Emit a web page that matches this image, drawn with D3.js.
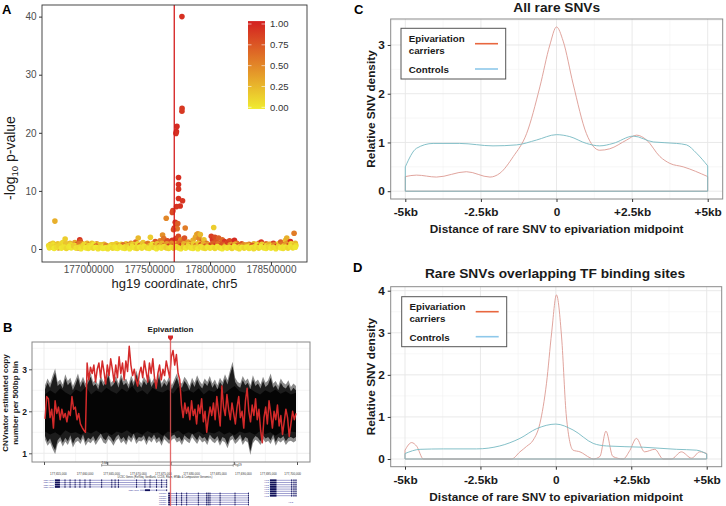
<!DOCTYPE html>
<html><head><meta charset="utf-8">
<script src="https://cdn.jsdelivr.net/npm/d3@7/dist/d3.min.js"></script>
<style>body{margin:0;background:#fff}svg{display:block;font-family:"Liberation Sans",Arial,sans-serif}</style>
</head><body><svg id="c" width="726" height="506"></svg>
<script>
// ---------------- DATA ----------------
// Panel A: [position (Mb, chr5 hg19), -log10 p, r2]
const snpBase = [
[176.68,0.2,0.05],[176.70,0.45,0.1],[176.72,0.1,0.02],[176.74,0.3,0.08],[176.76,0.55,0.12],[176.78,0.15,0.03],[176.80,0.35,0.05],[176.82,0.1,0.1],[176.84,0.4,0.04],[176.86,0.2,0.02],[176.88,0.5,0.15],[176.90,0.15,0.05],[176.92,0.3,0.08],[176.94,0.05,0.03],[176.96,0.4,0.1],[176.98,0.2,0.02],[177.00,0.1,0.06],[177.02,0.35,0.04],[177.04,0.15,0.1],[177.06,0.3,0.02],[177.08,0.05,0.05],[177.10,0.25,0.08],[177.12,0.1,0.03],[177.14,0.2,0.02],[177.16,0.05,0.06],[177.18,0.3,0.04],[177.20,0.15,0.1],[177.22,0.35,0.05],[177.24,0.1,0.02],[177.26,0.4,0.08],[177.28,0.2,0.03],[177.30,0.1,0.05],[177.32,0.3,0.1],[177.34,0.05,0.02],[177.36,0.4,0.06],[177.38,0.2,0.04],[177.40,0.1,0.12],[177.42,0.35,0.03],[177.44,0.15,0.08],[177.46,0.45,0.05],[177.48,0.2,0.1],[177.50,0.1,0.04],[177.52,0.4,0.06],[177.54,0.25,0.12],[177.56,0.05,0.03],[177.58,0.35,0.1],[177.60,0.15,0.05],[177.62,0.4,0.08],[177.64,0.2,0.15],[177.66,0.1,0.1],[177.68,0.3,0.05],[177.70,0.15,0.12],[177.72,0.4,0.08],[177.74,0.2,0.1],[177.76,0.05,0.05],[177.78,0.35,0.15],[177.80,0.15,0.03],[177.82,0.45,0.1],[177.84,0.2,0.06],[177.86,0.1,0.04],[177.88,0.3,0.12],[177.90,0.05,0.02],[177.92,0.4,0.08],[177.94,0.2,0.05],[177.96,0.1,0.1],[177.98,0.35,0.03],[178.00,0.15,0.06],[178.02,0.3,0.04],[178.04,0.1,0.1],[178.06,0.4,0.05],[178.08,0.2,0.08],[178.10,0.05,0.02],[178.12,0.35,0.1],[178.14,0.15,0.04],[178.16,0.3,0.06],[178.18,0.1,0.12],[178.20,0.4,0.03],[178.22,0.2,0.05],[178.24,0.05,0.08],[178.26,0.3,0.02],[178.28,0.15,0.1],[178.30,0.35,0.04],[178.32,0.1,0.06],[178.34,0.25,0.03],[178.36,0.05,0.08],[178.38,0.3,0.05],[178.40,0.15,0.1],[178.42,0.4,0.02],[178.44,0.2,0.06],[178.46,0.1,0.04],[178.48,0.35,0.1],[178.50,0.15,0.03],[178.52,0.3,0.08],[178.54,0.05,0.05],[178.56,0.4,0.12],[178.58,0.2,0.02],[178.60,0.1,0.06],[178.62,0.35,0.04],[178.64,0.15,0.1],[178.66,0.4,0.05],[178.68,0.2,0.08],[178.70,0.3,0.03]
];
const snpLow2 = [
[176.675,0.6,0.1],[176.695,0.3,0.2],[176.715,0.7,0.05],[176.735,0.5,0.15],[176.755,0.2,0.4],[176.775,0.8,0.1],[176.795,0.5,0.05],[176.815,0.9,0.2],[176.835,0.3,0.6],[176.855,0.7,0.1],[176.875,0.4,0.3],[176.895,0.6,0.05],[176.915,0.2,0.7],[176.925,0.9,0.55],[176.945,0.5,0.2],[176.965,0.8,0.1],[176.985,0.4,0.65],
[177.005,0.6,0.1],[177.025,0.3,0.4],[177.045,0.8,0.05],[177.065,0.5,0.7],[177.085,0.3,0.1],[177.105,0.7,0.2],[177.125,0.4,0.05],[177.145,0.6,0.5],[177.165,0.3,0.1],[177.185,0.5,0.05],[177.205,0.7,0.15],[177.225,0.2,0.1],[177.245,0.6,0.3],[177.265,0.5,0.05],[177.285,0.7,0.6],[177.305,0.4,0.1],[177.325,0.6,0.2],[177.345,0.3,0.9],
[177.365,0.8,0.15],[177.385,0.5,0.5],[177.405,0.9,0.1],[177.425,0.6,0.7],[177.445,0.8,0.2],[177.465,0.5,0.1],[177.485,0.9,0.6],[177.505,0.6,0.3],[177.525,0.8,0.05],[177.545,0.5,0.85],[177.565,0.9,0.2],[177.585,0.6,0.6],[177.605,1.0,0.3],[177.625,0.6,0.7],[177.645,0.9,0.4],[177.665,0.5,0.85],[177.685,1.0,0.5],
[177.705,0.6,0.9],[177.715,0.9,0.3],[177.725,0.5,0.8],[177.745,1.0,0.6],[177.765,0.6,0.85],[177.785,0.9,0.3],[177.805,0.5,0.7],[177.825,0.8,0.2],[177.845,0.6,0.5],[177.865,0.9,0.15],[177.885,0.6,0.6],[177.905,1.0,0.2],[177.925,0.7,0.85],[177.945,0.9,0.3],[177.965,0.5,0.7],[177.985,0.8,0.4],
[178.005,0.6,0.9],[178.025,1.0,0.7],[178.045,0.6,0.85],[178.065,0.9,0.6],[178.085,0.5,0.9],[178.105,0.8,0.75],[178.125,0.6,0.5],[178.145,1.0,0.85],[178.165,0.7,0.4],[178.185,0.5,0.9],[178.205,0.8,0.3],[178.225,0.6,0.7],[178.245,0.4,0.15],[178.265,0.6,0.5],[178.285,0.3,0.1],
[178.305,0.7,0.4],[178.325,0.5,0.1],[178.345,0.6,0.75],[178.365,0.4,0.2],[178.385,0.7,0.05],[178.405,0.5,0.6],[178.425,0.8,0.15],[178.445,0.4,0.85],[178.465,0.6,0.1],[178.485,0.8,0.3],[178.505,0.5,0.05],[178.525,0.7,0.5],[178.545,0.4,0.9],[178.565,0.6,0.2],[178.585,0.8,0.6],[178.605,0.5,0.1],[178.625,0.9,0.4],[178.645,0.6,0.75],[178.665,0.9,0.1],[178.685,0.5,0.3],[178.705,0.6,0.1]
];
const snpMixed = [
[176.69,0.8,0.3],[176.71,1.0,0.15],[176.73,0.7,0.5],[176.75,0.9,0.2],[176.77,0.6,0.6],[176.79,1.1,0.1],[176.81,1.7,0.15],[176.83,0.8,0.45],[176.85,1.0,0.25],[176.87,0.6,0.7],[176.89,1.1,0.35],[176.91,0.8,0.85],[176.93,1.6,0.9],[176.935,1.3,0.75],[176.95,0.9,0.5],[176.97,0.7,0.8],[176.99,1.0,0.3],
[177.01,0.7,0.6],[177.03,1.0,0.2],[177.05,0.6,0.85],[177.07,0.9,0.4],[177.09,0.7,0.15],[177.11,0.5,0.9],[177.13,0.8,0.3],[177.15,0.6,0.1],[177.17,0.4,0.5],[177.19,0.7,0.2],[177.21,0.5,0.05],[177.23,0.9,0.15],[177.25,0.6,0.6],[177.27,0.8,0.1],[177.29,0.5,0.3],[177.31,0.9,0.2],[177.33,0.7,0.8],
[177.35,1.0,0.4],[177.37,0.6,0.9],[177.39,1.2,0.7],[177.41,1.9,0.25],[177.43,0.8,0.5],[177.45,1.1,0.2],[177.47,0.7,0.85],[177.49,1.0,0.3],[177.51,2.0,0.15],[177.53,0.9,0.6],[177.55,1.3,0.75],[177.57,0.8,0.4],[177.59,1.4,0.55],[177.61,2.4,0.45],[177.62,1.8,0.6],[177.63,1.0,0.9],[177.65,1.4,0.8],[177.67,0.9,0.7],
[177.69,1.5,0.9],[177.70,0.8,0.6],[177.71,1.2,0.95],[177.72,1.8,0.85],[177.73,0.9,0.7],[177.74,2.2,0.8],[177.75,1.0,0.9],[177.76,1.6,0.5],[177.77,0.7,0.95],[177.78,1.3,0.6],[177.79,1.9,0.75],[177.80,0.8,0.85],[177.82,1.2,0.4],[177.84,0.9,0.8],
[177.86,1.5,0.3],[177.88,2.0,0.35],[177.89,2.5,0.3],[177.90,2.6,0.4],[177.91,1.8,0.5],[177.92,2.5,0.25],[177.93,1.2,0.7],[177.95,1.6,0.2],[177.97,1.0,0.6],[177.99,0.7,0.9],[178.01,2.2,0.85],[178.02,1.6,0.9],[178.03,3.7,0.15],[178.04,2.0,0.8],[178.05,1.3,0.75],[178.07,1.9,0.7],[178.08,1.0,0.85],[178.10,1.6,0.65],[178.12,1.3,0.9],[178.14,0.9,0.6],[178.16,1.4,0.8],[178.18,0.8,0.5],[178.20,1.5,0.95],[178.22,1.0,0.6],[178.24,0.6,0.3],[178.26,0.9,0.75],[178.28,0.7,0.4],
[178.30,0.5,0.2],[178.32,0.8,0.6],[178.34,0.6,0.1],[178.36,0.9,0.3],[178.38,0.5,0.8],[178.40,1.0,0.5],[178.42,1.2,0.9],[178.44,0.7,0.2],[178.46,0.9,0.6],[178.48,0.6,0.15],[178.50,0.8,0.4],[178.52,1.0,0.85],[178.54,0.6,0.3],[178.56,0.9,0.1],[178.58,1.2,0.7],[178.60,0.8,0.55],[178.62,1.5,0.2],[178.63,1.9,0.3],[178.64,1.0,0.8],[178.66,1.3,0.95],[178.67,0.8,0.5],[178.69,2.7,0.55],[178.70,1.0,0.25]
];
const snpPeak = [
[176.726,4.8,0.3],[177.769,40,0.92],[177.770,24.2,0.88],[177.769,23.7,0.88],[177.728,21.1,0.95],[177.724,20.2,0.95],[177.720,19.9,0.92],
[177.741,12.3,0.93],[177.741,11.1,0.93],[177.741,10.3,0.9],[177.741,8.7,0.92],[177.774,8.3,0.9],[177.755,7.4,0.92],[177.725,7.3,0.9],
[177.695,6.6,0.85],[177.690,6.3,0.8],[177.640,5.3,0.5],[177.714,4.6,0.9],[177.720,4.2,0.75],[177.706,3.6,0.85],[177.730,3.5,0.6],
[177.796,3.6,0.55],[177.735,4.4,0.7],[177.700,3.3,0.8]
];
const epiPosA = 177.706;
const aXTicks = [177.0,177.5,178.0,178.5];
const aYTicks = [0,10,20,30,40];
const r2Ticks = [0,0.25,0.5,0.75,1];

// Panel B: CNVnator copy number per 500bp bin
const redLine = [1.82,2.35,2.3,1.85,2.05,1.6,2.25,1.95,2.1,1.8,2.05,1.85,1.95,1.75,2.0,1.9,2.35,2.05,2.1,1.8,1.95,1.7,1.62,1.55,1.5,
3.15,2.75,3.05,2.9,3.1,2.7,3.0,3.15,2.8,3.2,2.95,2.65,3.1,2.85,3.25,3.0,2.7,3.1,2.8,3.3,2.9,3.15,2.75,3.2,2.95,3.55,3.1,2.85,3.0,2.75,2.6,2.9,3.05,2.8,3.2,2.95,2.7,3.15,2.9,3.25,2.8,2.55,2.9,3.1,2.75,3.0,2.85,3.2,3.0,2.8,3.3,3.45,3.1,3.35,2.9,2.75,
2.15,1.85,2.2,1.95,2.1,1.8,2.25,1.9,2.05,1.7,2.15,1.95,2.3,1.75,2.0,1.5,1.85,2.1,1.9,2.2,1.8,2.35,2.0,1.65,2.6,2.1,1.9,2.4,2.05,1.8,2.2,1.95,1.7,2.1,2.35,1.85,2.0,1.6,2.25,2.55,2.0,1.75,2.15,1.9,2.3,1.8,2.05,1.55,1.25,1.85,2.1,1.7,2.25,1.95,1.6,2.0,1.8,2.15,1.65,1.9,1.45,1.75,2.05,1.85,1.4,1.7,2.0,1.8,1.95];
const bandOuterHi = [2.62,2.78,2.66,2.85,3.02,2.7,2.76,2.64,2.88,2.72,2.8,2.6,2.74,2.9,2.68,2.82,2.66,2.78,2.92,2.7,2.75,2.62,2.86,2.7,2.8,2.95,2.68,2.74,2.84,2.66,2.9,2.72,2.78,2.64,2.86,2.7,2.98,2.76,2.66,2.82,2.72,2.88,2.68,2.8,2.74,2.92,2.66,2.78,2.7,2.84,2.62,2.76,2.9,2.7,2.66,2.82,2.74,2.6,2.8,2.68,2.86,2.72,2.64,2.78,2.7,2.84,2.66,2.76,2.62,2.8,2.7,2.88,2.74,2.98,3.18,2.8,2.7,2.66,2.84,2.72,2.78,2.62,2.86,2.7,2.76,2.64,2.82,2.68,2.74,2.9,2.66,2.72,2.6,2.78,2.68,2.64,2.74,2.58,2.66,2.6];
const bandOuterLo = [1.32,1.18,1.26,1.1,0.98,1.22,1.3,1.16,1.28,1.2,1.34,1.14,1.26,1.3,1.22,1.36,1.18,1.28,1.24,1.32,1.2,1.3,1.38,1.26,1.22,1.34,1.28,1.18,1.3,1.36,1.24,1.3,1.2,1.34,1.26,1.38,1.22,1.3,1.28,1.34,1.2,1.32,1.26,1.36,1.24,1.3,1.18,1.34,1.28,1.22,1.32,1.36,1.26,1.3,1.2,1.34,1.28,1.24,1.38,1.3,1.22,1.34,1.26,1.3,1.2,1.36,1.28,1.24,1.32,1.18,1.3,1.26,1.12,1.3,1.34,1.22,1.28,1.36,1.2,1.3,1.26,0.96,1.24,1.32,1.28,1.2,1.34,1.26,1.3,1.22,1.36,1.18,1.3,1.26,1.32,1.2,1.28,1.3,1.26,1.3];
const bandInnerHi = [2.4,2.5,2.42,2.55,2.45,2.38,2.52,2.46,2.58,2.4,2.5,2.44,2.56,2.48,2.42,2.54,2.46,2.6,2.44,2.5,2.4,2.56,2.48,2.45,2.52,2.42,2.58,2.46,2.5,2.44,2.55,2.4,2.5,2.46,2.56,2.42,2.52,2.6,2.48,2.44,2.54,2.46,2.4,2.5,2.44,2.52,2.42,2.48,2.4,2.44];
const bandInnerLo = [1.52,1.45,1.5,1.42,1.55,1.48,1.5,1.44,1.52,1.47,1.54,1.46,1.5,1.43,1.52,1.48,1.55,1.46,1.5,1.44,1.53,1.47,1.5,1.42,1.52,1.48,1.54,1.45,1.5,1.46,1.52,1.44,1.5,1.47,1.53,1.45,1.5,1.43,1.52,1.48,1.5,1.44,1.53,1.46,1.5,1.42,1.5,1.46,1.52,1.5];
const bYTicks = [1,2,3];
const epiPosB = 50; // % of window
// UCSC snapshot (positions in % of window)
const ucCoordPos = [2.4,12.9,23.4,34,43.9,55,65.6,75.5,85.4,95];
const ucCoordLab = ["177,655,000","177,660,000","177,665,000","177,670,000","177,675,000","177,680,000","177,685,000","177,690,000","177,695,000","177,700,000"];
const ucGenes = [
 {name:"TSPAN17", rows:[0,1,2,3], start:4.3, end:48.5, thick:[4.3,6.3], exons:[8.3,10.3,12.3,14.2,16.2,18.2,22.8,26.8,28.1,29.4,36.6,39.9,41.9,44.5,46.5,48.5]},
 {name:"TSPAN17", rows:[4.5], start:37.9, end:48.5, thick:[39.9,41.9], exons:[44.5,48.5]},
 {name:"UNC5A", rows:[6,7,8,9,10,11], start:49.1, end:80.8, thick:[49.1,49.9], exons:[52.4,54.4,56.4,61,64.3,64.9,65.6,69.6,75.5,80.8]},
 {name:"HK3", rows:[0,1,2,3,4,5,6,7], start:89.3, end:99.9, thick:[89.3,91.9], exons:[97.9,98.8,99.6]}
];

// Panels C & D: relative SNV density vs distance (kb)
const cEpiX = [-5,-4.63,-3.97,-2.98,-2.2,-1.87,-1.43,-0.99,-0.55,-0.22,0,0.22,0.55,0.99,1.43,1.76,2.32,2.65,2.98,3.42,3.75,4.19,5];
const cEpiY = [0.30,0.33,0.29,0.40,0.29,0.37,0.71,1.18,2.14,3.0,3.37,3.08,2.2,1.18,0.84,0.87,1.05,1.15,1.05,0.71,0.57,0.5,0.3];
const cCtlX = [-5,-4.63,-4.08,-3.2,-2.1,-1.32,-0.66,0,0.44,0.99,1.43,1.87,2.54,3.2,3.97,4.3,4.63,5];
const cCtlY = [0.5,0.88,0.98,0.98,0.93,0.95,1.05,1.16,1.12,0.98,0.93,0.98,1.13,1.01,0.98,0.95,0.78,0.52];
const dEpiX = [-5,-4.78,-4.61,-4.39,-1.47,-1.19,-0.97,-0.75,-0.53,-0.31,-0.14,0.02,0.19,0.35,0.57,0.8,1.13,1.24,1.46,1.66,1.89,2.23,2.45,2.67,2.94,3.28,3.56,3.83,4.16,4.5,4.77,5];
const dEpiY = [0.21,0.39,0.3,0,0,0.17,0.3,0.45,0.84,1.8,3.0,3.9,2.9,1.0,0.21,0.17,0.03,0,0.06,0.66,0.06,0,0.2,0.49,0.17,0.23,0,0,0.17,0.02,0.17,0.13];
const dCtlX = [-5,-4.5,-3.73,-2.63,-1.86,-1.19,-0.64,0,0.57,1.24,1.68,2.9,4.0,4.66,5];
const dCtlY = [0.13,0.23,0.24,0.24,0.31,0.49,0.72,0.83,0.69,0.37,0.31,0.28,0.23,0.21,0.12];
const kbTicks = [-5,-2.5,0,2.5,5];
const kbLabels = ["-5kb","-2.5kb","0","+2.5kb","+5kb"];
const legendLabels = [["Epivariation","carriers"],["Controls"]];

// ---------------- DRAW ----------------
const svg = d3.select("#c");
const BOLD = "700";

// ===== Panel A =====
(function(){
  const L=42,R=307,T=5,B=262;
  const x = d3.scaleLinear().domain([176.620,178.796]).range([L,R]);
  const y = d3.scaleLinear().domain([-2.24,42.0]).range([B,T]);
  const col = d3.scaleLinear().domain([0,1]).range(["#f0ec30","#d42020"]).interpolate(d3.interpolateRgb);
  const g = svg.append("g");
  g.append("rect").attr("x",L).attr("y",T).attr("width",R-L).attr("height",B-T).attr("fill","#fff");
  g.append("g").selectAll("circle").data(snpMixed.concat(snpLow2, snpBase, snpPeak)).join("circle")
    .attr("cx",d=>x(d[0])).attr("cy",d=>y(d[1])).attr("r",2.8).attr("fill",d=>col(d[2]));
  g.append("line").attr("x1",x(epiPosA)).attr("x2",x(epiPosA)).attr("y1",T).attr("y2",B)
    .attr("stroke","#d41c1c").attr("stroke-width",1.3);
  g.append("rect").attr("x",L).attr("y",T).attr("width",R-L).attr("height",B-T).attr("fill","none").attr("stroke","#333").attr("stroke-width",0.9);
  const ax = g.append("g").attr("transform",`translate(0,${B})`)
    .call(d3.axisBottom(x).tickValues(aXTicks).tickFormat(d=>d3.format("d")(Math.round(d*1e6))).tickSize(3).tickPadding(1));
  const ay = g.append("g").attr("transform",`translate(${L},0)`)
    .call(d3.axisLeft(y).tickValues(aYTicks).tickSize(3).tickPadding(2.5));
  [ax,ay].forEach(a=>{a.select(".domain").remove();a.selectAll("line").attr("stroke","#333");
    a.selectAll("text").attr("font-size",10).attr("fill","#4d4d4d").attr("font-family","Liberation Sans");});
  g.append("text").attr("x",(L+R)/2).attr("y",288).attr("text-anchor","middle").attr("font-size",13).attr("fill","#1a1a1a").text("hg19 coordinate, chr5");
  const yl = g.append("text").attr("transform",`translate(15,158) rotate(-90)`).attr("text-anchor","middle").attr("font-size",14).attr("fill","#1a1a1a");
  yl.append("tspan").text("-log");
  yl.append("tspan").attr("font-size",9.5).attr("dy",3).text("10");
  yl.append("tspan").attr("dy",-3).text(" p-value");
  // colorbar
  const cb = d3.scaleLinear().domain([0,1]).range([107.3,24]);
  const defs = svg.append("defs");
  const gr = defs.append("linearGradient").attr("id","r2g").attr("x1",0).attr("x2",0).attr("y1",1).attr("y2",0);
  r2Ticks.forEach(t=>gr.append("stop").attr("offset",t).attr("stop-color",col(t)));
  g.append("rect").attr("x",248).attr("y",cb(1.035)).attr("width",17).attr("height",cb(-0.02)-cb(1.035)).attr("fill","url(#r2g)");
  r2Ticks.forEach(t=>{
    g.append("line").attr("x1",248).attr("x2",251.5).attr("y1",cb(t)).attr("y2",cb(t)).attr("stroke","#fff").attr("stroke-opacity",0.6);
    g.append("line").attr("x1",261.5).attr("x2",265).attr("y1",cb(t)).attr("y2",cb(t)).attr("stroke","#fff").attr("stroke-opacity",0.6);
    g.append("text").attr("x",270).attr("y",cb(t)+3.4).attr("font-size",9.5).attr("fill","#333").text(d3.format(".2f")(t));
  });
  svg.append("text").attr("x",2).attr("y",13.5).attr("font-size",13).attr("font-weight",BOLD).text("A");
})();

// ===== Panel B =====
(function(){
  const L=32,R=310,T=342,B=462;
  const x = d3.scaleLinear().domain([0,100]).range([44,297]);
  const y = d3.scaleLinear().domain([0.793,3.65]).range([B,T]);
  const g = svg.append("g");
  d3.range(0,100.1,12.5).forEach(v=>g.append("line").attr("x1",x(v)).attr("x2",x(v)).attr("y1",T).attr("y2",B).attr("stroke","#ebebeb").attr("stroke-width",v%25===0?0.9:0.5));
  [1,1.5,2,2.5,3,3.5].forEach(v=>g.append("line").attr("x1",L).attr("x2",R).attr("y1",y(v)).attr("y2",y(v)).attr("stroke","#ebebeb").attr("stroke-width",Number.isInteger(v)?0.9:0.5));
  const ib = (arr)=>d3.scaleLinear().domain([0,arr.length-1]).range([0.4,99.6]);
  const ioH = ib(bandOuterHi), iiH = ib(bandInnerHi), ir = ib(redLine);
  const outer = bandOuterHi.map((v,i)=>({u:ioH(i),hi:v,lo:bandOuterLo[i]}));
  const inner = bandInnerHi.map((v,i)=>({u:iiH(i),hi:v,lo:bandInnerLo[i]}));
  const area = d3.area().x(d=>x(d.u)).y0(d=>y(d.lo)).y1(d=>y(d.hi));
  g.append("path").datum(outer).attr("fill","#8a8a8a").attr("d",area);
  g.append("path").datum(outer.map(d=>({u:d.u,hi:d.hi-0.1,lo:d.lo+0.09}))).attr("fill","#1c1c1c").attr("d",area);
  g.append("path").datum(inner).attr("fill","#050505").attr("d",area);
  g.append("path").datum(redLine).attr("fill","none").attr("stroke","#d42a2a").attr("stroke-width",1.5).attr("stroke-linejoin","round")
    .attr("d",d3.line().x((d,i)=>x(ir(i))).y(d=>y(d)));
  g.append("rect").attr("x",L).attr("y",T).attr("width",R-L).attr("height",B-T).attr("fill","none").attr("stroke","#888").attr("stroke-width",1);
  const ay = g.append("g").attr("transform",`translate(${L},0)`).call(d3.axisLeft(y).tickValues(bYTicks).tickFormat(d3.format("d")).tickSize(3).tickPadding(2));
  const ax = g.append("g").attr("transform",`translate(0,${B})`).call(d3.axisBottom(x).tickValues([0,25,50,75,100]).tickFormat("").tickSize(3));
  [ax,ay].forEach(a=>{a.select(".domain").remove();a.selectAll("line").attr("stroke","#555");
    a.selectAll("text").attr("font-size",8.5).attr("font-weight",BOLD).attr("fill","#1a1a1a");});
  const yl = g.append("text").attr("transform",`translate(8,403) rotate(-90)`).attr("text-anchor","middle").attr("font-size",8).attr("font-weight",BOLD).attr("fill","#1a1a1a");
  yl.append("tspan").attr("x",0).attr("dy",0).text("CNVnator estimated copy");
  yl.append("tspan").attr("x",0).attr("dy",10).text("number per 500bp bin");
  const ex = x(epiPosB);
  g.append("text").attr("x",ex).attr("y",332.3).attr("text-anchor","middle").attr("font-size",8).attr("font-weight",BOLD).attr("fill","#1a1a1a").text("Epivariation");
  g.append("path").attr("d",`M${ex-2.5},335.5 h5 v2.5 l-2.5,3 l-2.5,-3 z`).attr("fill","#d42a2a");
  // UCSC snapshot
  const row = d3.scaleLinear().domain([0,1]).range([480.3,482.5]);
  g.append("line").attr("x1",x(22.8)).attr("x2",x(74.8)).attr("y1",465.3).attr("y2",465.3).attr("stroke","#444").attr("stroke-width",0.5);
  [22.8,74.8].forEach(v=>g.append("line").attr("x1",x(v)).attr("x2",x(v)).attr("y1",464).attr("y2",466.6).attr("stroke","#444").attr("stroke-width",0.5));
  g.append("text").attr("x",x(22.8)).attr("y",464).attr("font-size",3).attr("fill","#333").text("5 kb");
  g.append("text").attr("x",x(75.5)).attr("y",466.3).attr("font-size",3).attr("fill","#333").text("hg19");
  ucCoordPos.forEach((p,i)=>g.append("text").attr("x",x(p)).attr("y",474.6).attr("font-size",3).attr("fill","#333").text(ucCoordLab[i]));
  g.append("text").attr("x",x(47.8)).attr("y",477.6).attr("text-anchor","middle").attr("font-size",2.6).attr("fill","#333")
    .text("UCSC Genes (RefSeq, GenBank, CCDS, Rfam, tRNAs & Comparative Genomics)");
  ucGenes.forEach(gn=>{
    gn.rows.forEach(r=>{
      const yy = row(r);
      g.append("line").attr("x1",x(gn.start)).attr("x2",x(gn.end)).attr("y1",yy).attr("y2",yy).attr("stroke","#4040a0").attr("stroke-width",0.5);
      g.append("rect").attr("x",x(gn.thick[0])).attr("y",yy-0.9).attr("width",x(gn.thick[1])-x(gn.thick[0])).attr("height",1.8).attr("fill","#10105a");
      gn.exons.forEach(e=>g.append("rect").attr("x",x(e)-0.45).attr("y",yy-0.9).attr("width",0.9).attr("height",1.8).attr("fill","#10105a"));
      g.append("text").attr("x",x(gn.start)-1).attr("y",yy+0.9).attr("text-anchor","end").attr("font-size",2.4).attr("fill","#333399").text(gn.name);
    });
  });
  g.append("text").attr("x",x(96.6)).attr("y",502.7).attr("font-size",2.4).attr("fill","#333399").text("HK3");
  g.append("line").attr("x1",ex).attr("x2",ex).attr("y1",340).attr("y2",506).attr("stroke","#e05555").attr("stroke-width",1.3).attr("stroke-opacity",0.85);
  svg.append("text").attr("x",3).attr("y",331.5).attr("font-size",13).attr("font-weight",BOLD).text("B");
})();

// ===== Panels C & D =====
function densityPanel(o){
  const g = svg.append("g");
  const x = d3.scaleLinear().domain(o.xd).range([o.L,o.R]);
  const y = d3.scaleLinear().domain(o.yd).range([o.B,o.T]);
  g.append("rect").attr("x",o.L).attr("y",o.T).attr("width",o.R-o.L).attr("height",o.B-o.T).attr("fill","#fff");
  [-3.75,-1.25,1.25,3.75].forEach(v=>g.append("line").attr("x1",x(v)).attr("x2",x(v)).attr("y1",o.T).attr("y2",o.B).attr("stroke","#f2f2f2").attr("stroke-width",0.6));
  o.yMinor.forEach(v=>g.append("line").attr("x1",o.L).attr("x2",o.R).attr("y1",y(v)).attr("y2",y(v)).attr("stroke","#f2f2f2").attr("stroke-width",0.6));
  kbTicks.forEach(v=>g.append("line").attr("x1",x(v)).attr("x2",x(v)).attr("y1",o.T).attr("y2",o.B).attr("stroke","#e6e6e6").attr("stroke-width",0.9));
  o.yTicks.forEach(v=>g.append("line").attr("x1",o.L).attr("x2",o.R).attr("y1",y(v)).attr("y2",y(v)).attr("stroke","#e6e6e6").attr("stroke-width",0.9));
  const curve = (xs,ys,color)=>{
    const pts = xs.map((v,i)=>[v,ys[i]]);
    const line = d3.line().x(d=>x(d[0])).y(d=>y(d[1])).curve(d3.curveMonotoneX);
    const dd = line(pts) + `L${x(xs[xs.length-1])},${y(0)}L${x(xs[0])},${y(0)}Z`;
    g.append("path").attr("d",dd).attr("fill","none").attr("stroke",color).attr("stroke-width",0.9);
  };
  curve(o.ex,o.ey,"#dc9a92");
  curve(o.cx,o.cy,"#76b9c2");
  g.append("rect").attr("x",o.L).attr("y",o.T).attr("width",o.R-o.L).attr("height",o.B-o.T).attr("fill","none").attr("stroke","#8a8a8a").attr("stroke-width",1);
  const ax = g.append("g").attr("transform",`translate(0,${o.B})`).call(d3.axisBottom(x).tickValues(kbTicks).tickFormat((d,i)=>kbLabels[i]).tickSize(3).tickPadding(6));
  const ay = g.append("g").attr("transform",`translate(${o.L},0)`).call(d3.axisLeft(y).tickValues(o.yTicks).tickFormat(d3.format("d")).tickSize(3).tickPadding(3));
  [ax,ay].forEach(a=>{a.select(".domain").remove();a.selectAll("line").attr("stroke","#333");
    a.selectAll("text").attr("font-size",11.8).attr("font-weight",BOLD).attr("fill","#1a1a1a");});
  g.append("text").attr("x",(o.L+o.R)/2).attr("y",o.B+34.3).attr("text-anchor","middle").attr("font-size",11.8).attr("font-weight",BOLD).attr("fill","#1a1a1a").text("Distance of rare SNV to epivariation midpoint");
  g.append("text").attr("transform",`translate(375,${(o.T+o.B)/2}) rotate(-90)`).attr("text-anchor","middle").attr("font-size",11.8).attr("font-weight",BOLD).attr("fill","#1a1a1a").text("Relative SNV density");
  g.append("text").attr("x",o.titleX).attr("y",o.titleY).attr("text-anchor","middle").attr("font-size",13.7).attr("font-weight",BOLD).attr("fill","#1a1a1a").text(o.title);
  const lg = o.leg;
  g.append("rect").attr("x",lg.x0).attr("y",lg.y0).attr("width",lg.x1-lg.x0).attr("height",lg.y1-lg.y0).attr("fill","#fff").attr("stroke","#555").attr("stroke-width",1);
  legendLabels[0].forEach((t,i)=>g.append("text").attr("x",lg.x0+7.7).attr("y",lg.t1+i*12).attr("font-size",9.8).attr("font-weight",BOLD).attr("fill","#1a1a1a").text(t));
  g.append("text").attr("x",lg.x0+7.7).attr("y",lg.t2).attr("font-size",9.8).attr("font-weight",BOLD).attr("fill","#1a1a1a").text(legendLabels[1][0]);
  g.append("line").attr("x1",lg.x0+74).attr("x2",lg.x0+97).attr("y1",lg.k1).attr("y2",lg.k1).attr("stroke","#e8673f").attr("stroke-width",1.6);
  g.append("line").attr("x1",lg.x0+74).attr("x2",lg.x0+97).attr("y1",lg.k2).attr("y2",lg.k2).attr("stroke","#8ec8ea").attr("stroke-width",1.6);
  svg.append("text").attr("x",o.letterX).attr("y",o.letterY).attr("font-size",13).attr("font-weight",BOLD).text(o.letter);
}
densityPanel({L:390.7,R:722.7,T:19,B:199,xd:[-5.483,5.496],yd:[-0.16,3.533],yTicks:[0,1,2,3],yMinor:[0.5,1.5,2.5,3.5],
  ex:cEpiX,ey:cEpiY,cx:cCtlX,cy:cCtlY,title:"All rare SNVs",titleX:556.7,titleY:12,
  leg:{x0:401,x1:505.7,y0:28.3,y1:79,t1:42,t2:72.7,k1:43.7,k2:69},letter:"C",letterX:354,letterY:13.5});
densityPanel({L:390.7,R:721.7,T:286.7,B:466.7,xd:[-5.474,5.497],yd:[-0.183,4.095],yTicks:[0,1,2,3,4],yMinor:[0.5,1.5,2.5,3.5],
  ex:dEpiX,ey:dEpiY,cx:dCtlX,cy:dCtlY,title:"Rare SNVs overlapping TF binding sites",titleX:555,titleY:277.5,
  leg:{x0:401.7,x1:506.7,y0:296.7,y1:346.7,t1:310,t2:340.7,k1:311.7,k2:336.7},letter:"D",letterX:353,letterY:271.5});
</script></body></html>
